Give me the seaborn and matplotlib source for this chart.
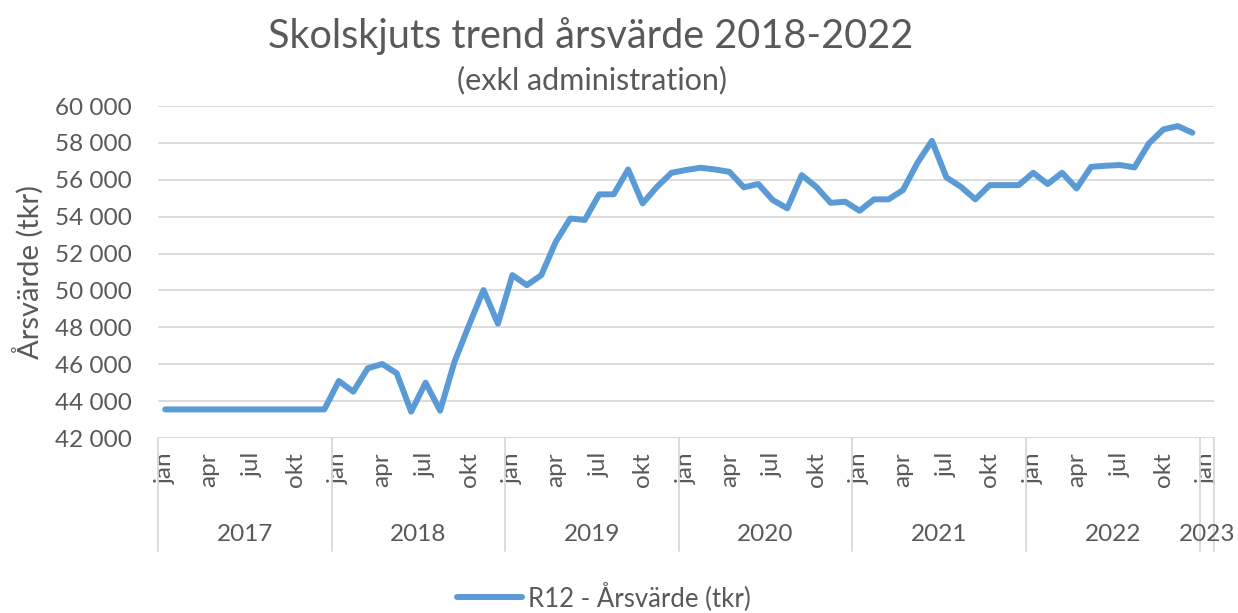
import matplotlib
matplotlib.use("Agg")
import matplotlib.pyplot as plt
import seaborn as sns
import pandas as pd
from matplotlib.ticker import FuncFormatter
from matplotlib.lines import Line2D

# ---- data ----
values_2017 = [43550, 43550, 43550, 43550, 43550, 43550, 43550, 43550, 43550, 43550, 43550, 43550]
values_2018 = [45090, 44510, 45780, 46010, 45510, 43430, 45000, 43480, 46140, 48120, 50020, 48200]
values_2019 = [50830, 50290, 50830, 52640, 53900, 53820, 55210, 55210, 56560, 54720, 55620, 56380]
values_2020 = [56530, 56650, 56560, 56430, 55590, 55770, 54900, 54450, 56250, 55620, 54750, 54810]
values_2021 = [54320, 54940, 54940, 55440, 56920, 58110, 56130, 55620, 54940, 55710, 55710, 55710]
values_2022 = [56380, 55770, 56380, 55530, 56700, 56760, 56800, 56670, 57970, 58730, 58910, 58550]
years = ["2017", "2018", "2019", "2020", "2021", "2022", "2023"]
month_labels = ["jan", "apr", "jul", "okt"]
series_name = "R12 - Årsvärde (tkr)"
title = "Skolskjuts trend årsvärde 2018-2022"
subtitle = "(exkl administration)"
ylabel = "Årsvärde (tkr)"

values = values_2017 + values_2018 + values_2019 + values_2020 + values_2021 + values_2022
n_cats = len(values) + 1  # includes jan 2023 (empty)
df = pd.DataFrame({"idx": list(range(len(values))), "value": values})

# ---- style ----
sns.set_theme(style="white")
plt.rcParams["font.family"] = ["Lato", "DejaVu Sans"]
txt = "#595959"
grid_c = "#d9d9d9"
line_c = "#5B9BD5"
fs = 17.5

fig = plt.figure(figsize=(12.38, 6.13), dpi=100)
ax = fig.add_axes([158 / 1238, 1 - 438 / 613, (1214 - 158) / 1238, (438 - 106) / 613])

sns.lineplot(data=df, x="idx", y="value", ax=ax, color=line_c, linewidth=4.3,
             solid_capstyle="round", solid_joinstyle="round", legend=False)

ax.set_xlim(-0.5, n_cats - 0.5)
ax.set_ylim(42000, 60000)
ax.set_yticks(range(42000, 60001, 2000))
ax.yaxis.set_major_formatter(FuncFormatter(lambda v, p: f"{int(v):,}".replace(",", " ")))
ax.grid(axis="y", color=grid_c, linewidth=1.3)
ax.grid(axis="x", visible=False)
for s in ax.spines.values():
    s.set_visible(False)

xt = list(range(0, n_cats, 3))
xl = [month_labels[(i // 3) % 4] for i in xt]
ax.set_xticks(xt)
ax.set_xticklabels(xl, rotation=90, fontsize=fs, color=txt)
ax.tick_params(axis="x", length=0, pad=10)
ax.tick_params(axis="y", length=0, pad=19, labelsize=fs, labelcolor=txt)
ax.set_xlabel("")
ax.set_ylabel(ylabel, fontsize=21, color=txt, labelpad=8)

# year group separators and labels
trans = ax.get_xaxis_transform()
seps = [-0.5 + 12 * k for k in range(7)] + [n_cats - 0.5]
for xs in seps:
    ax.add_line(Line2D([xs, xs], [0, -0.34], transform=trans, color=grid_c,
                       linewidth=1.3, clip_on=False))
for k, yr in enumerate(years):
    if k < 6:
        xc = 12 * k + 5.5
    else:
        xc = 72
    ax.text(xc, -0.292, yr, transform=trans, ha="center", va="center",
            fontsize=fs, color=txt)

fig.text(591 / 1238, 1 - 36 / 613, title, ha="center", va="center", fontsize=28.5, color=txt)
fig.text(592 / 1238, 1 - 80 / 613, subtitle, ha="center", va="center", fontsize=22, color=txt)

handle = Line2D([], [], color=line_c, linewidth=4.3, solid_capstyle="round")
fig.legend([handle], [series_name], loc="center", bbox_to_anchor=(604 / 1238, 1 - 597 / 613),
           frameon=False, fontsize=18.5, labelcolor=txt, handlelength=2.5, handletextpad=0.25)

fig.savefig("out.png", dpi=100)
